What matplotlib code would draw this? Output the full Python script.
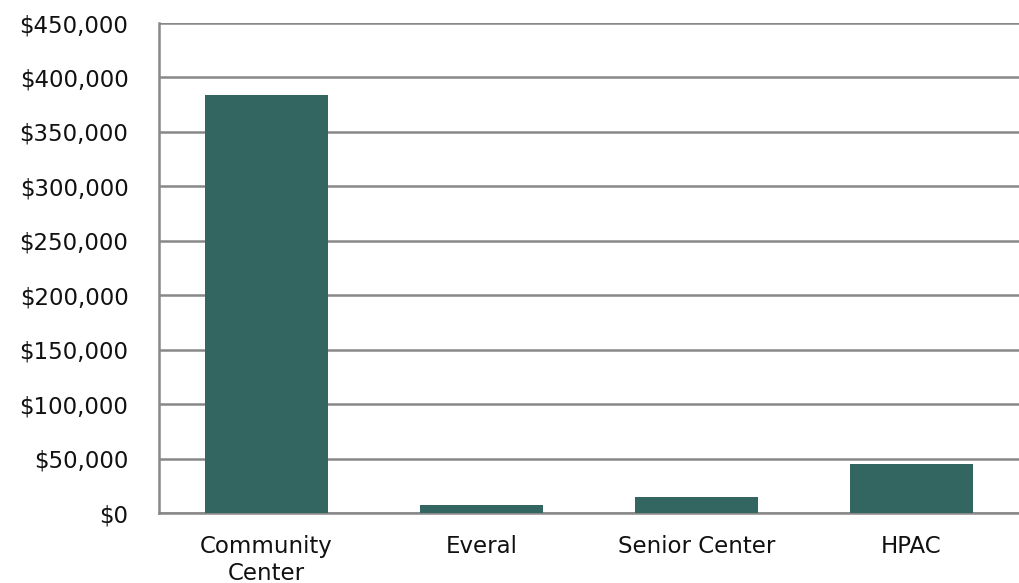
import matplotlib.pyplot as plt
from matplotlib.ticker import FuncFormatter

# data
categories = ["Community\nCenter", "Everal", "Senior Center", "HPAC"]
values = [383500, 7700, 14600, 44800]
yticks = list(range(0, 450001, 50000))

plt.rcParams["font.family"] = ["DejaVu Sans"]

fig = plt.figure(figsize=(10.19, 5.83), dpi=100)
ax = fig.add_axes([159 / 1019, 1 - 513 / 583, 1 - 159 / 1019, (513 - 23) / 583])

ax.bar(range(len(categories)), values, width=0.57, color="#336561", zorder=3)

ax.set_xlim(-0.5, 3.5)
ax.set_ylim(0, 450000)
ax.set_yticks(yticks)
ax.yaxis.set_major_formatter(FuncFormatter(lambda v, p: "${:,.0f}".format(v)))
ax.set_xticks(range(len(categories)))
ax.set_xticklabels(categories, linespacing=1.2)

ax.grid(axis="y", color="#888888", linewidth=1.8, zorder=0)
for side in ["top", "right"]:
    ax.spines[side].set_visible(False)
for side in ["left", "bottom"]:
    ax.spines[side].set_color("#888888")
    ax.spines[side].set_linewidth(1.8)

ax.tick_params(axis="y", length=0, pad=22, labelsize=16.5, labelcolor="#111111")
ax.tick_params(axis="x", length=0, pad=16, labelsize=16.5, labelcolor="#111111")

plt.savefig("out.png", dpi=100)
